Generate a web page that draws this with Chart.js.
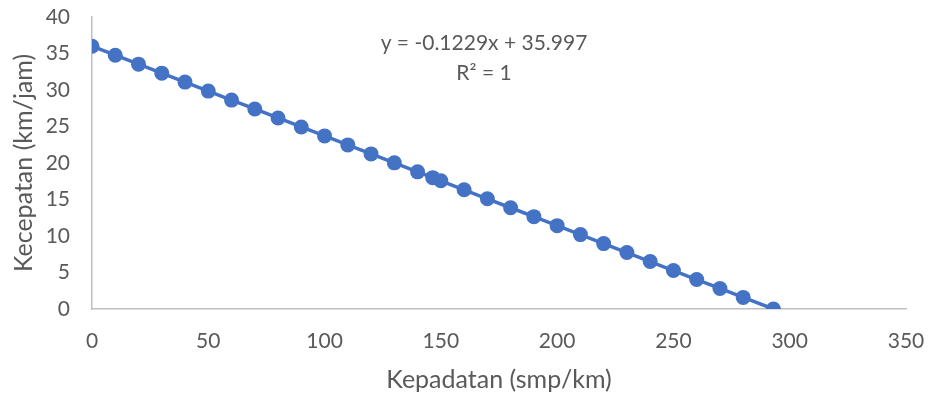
<!DOCTYPE html>
<html><head><meta charset="utf-8">
<script src="https://cdn.jsdelivr.net/npm/chart.js@4.4.1/dist/chart.umd.min.js"></script>
<style>html,body{margin:0;padding:0;background:#fff}#wrap{width:931px;height:399px}</style>
</head><body><div id="wrap"><canvas id="c" width="931" height="399"></canvas></div>
<script>
const densities = [0,10,20,30,40,50,60,70,80,90,100,110,120,130,140,146.5,150,160,170,180,190,200,210,220,230,240,250,260,270,280,293];
const speeds = [36.0,34.77,33.54,32.31,31.08,29.85,28.62,27.40,26.17,24.94,23.71,22.48,21.25,20.02,18.79,17.99,17.56,16.33,15.10,13.87,12.65,11.42,10.19,8.96,7.73,6.50,5.27,4.04,2.81,1.59,0.0];
const xTitle = 'Kepadatan (smp/km)';
const yTitle = 'Kecepatan (km/jam)';
const eqLines = ['y = -0.1229x + 35.997', 'R² = 1'];

const FONT = 'Lato, "Open Sans", sans-serif';
const TXT = '#595959';

const eqPlugin = {
  id: 'eq',
  afterDatasetsDraw(chart) {
    const ctx = chart.ctx;
    ctx.save();
    ctx.fillStyle = TXT;
    ctx.font = '21px ' + FONT;
    ctx.textAlign = 'center';
    ctx.textBaseline = 'middle';
    ctx.fillText(eqLines[0], 484, 43);
    ctx.fillText(eqLines[1], 484, 73);
    ctx.restore();
  }
};

new Chart(document.getElementById('c'), {
  type: 'scatter',
  data: {
    datasets: [{
      data: densities.map((d, i) => ({x: d, y: speeds[i]})),
      showLine: true,
      borderColor: '#4472C4',
      backgroundColor: '#4472C4',
      borderWidth: 3.5,
      pointRadius: 7.5,
      pointHoverRadius: 7.5,
      pointBorderWidth: 0
    }]
  },
  options: {
    responsive: false,
    animation: false,
    layout: {autoPadding: false, padding: {top: 17, right: 25, left: 0, bottom: 0}},
    plugins: {legend: {display: false}, tooltip: {enabled: false}},
    scales: {
      x: {
        type: 'linear', min: 0, max: 350,
        ticks: {stepSize: 50, color: TXT, font: {size: 21, family: FONT}, padding: 20},
        grid: {display: false, drawTicks: false},
        border: {display: true, color: '#BFBFBF', width: 1.5},
        title: {display: true, text: xTitle, color: TXT, font: {size: 25, family: FONT}, padding: {top: 0, bottom: 4}},
        afterFit(s) { s.height = 90; s.paddingLeft = 0; s.paddingRight = 0; }
      },
      y: {
        min: 0, max: 40,
        ticks: {stepSize: 5, color: TXT, font: {size: 21, family: FONT}, padding: 22},
        grid: {display: false, drawTicks: false},
        border: {display: true, color: '#BFBFBF', width: 1.5},
        title: {display: true, text: yTitle, color: TXT, font: {size: 25, family: FONT}, padding: {top: 9, bottom: 0}},
        afterFit(s) { s.width = 92; s.paddingTop = 0; s.paddingBottom = 0; }
      }
    }
  },
  plugins: [eqPlugin]
});
</script></body></html>
